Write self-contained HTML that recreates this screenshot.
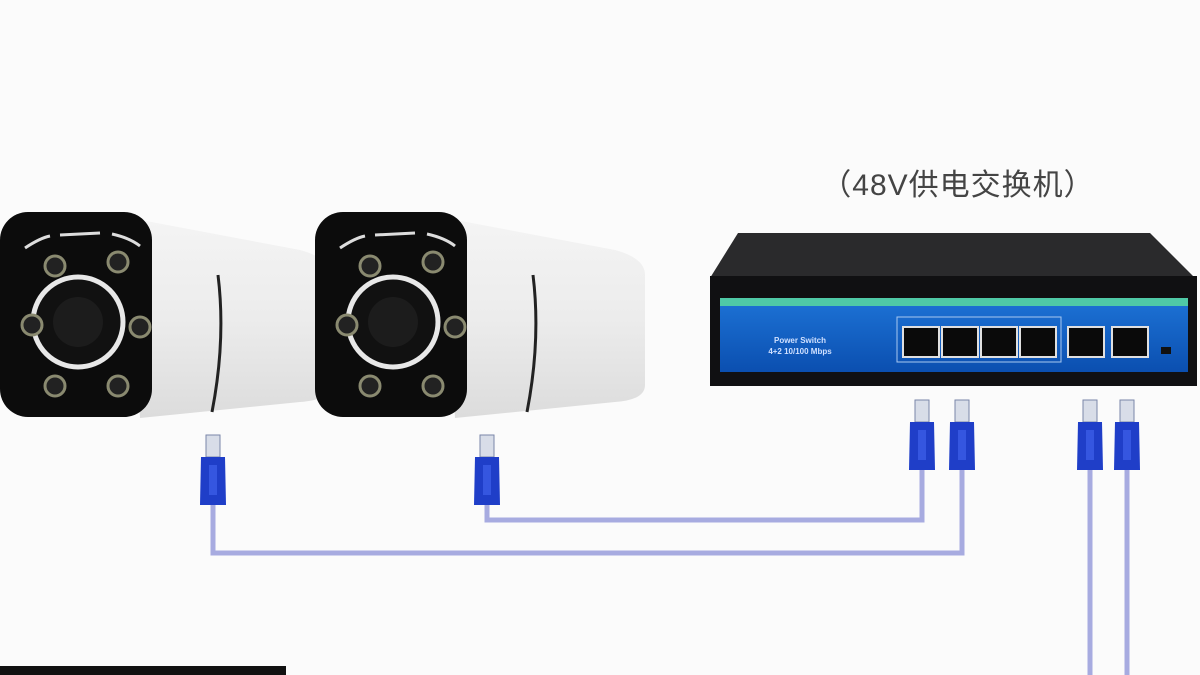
<!DOCTYPE html>
<html><head><meta charset="utf-8"><style>
html,body{margin:0;padding:0;background:#fbfbfb;width:1200px;height:675px;overflow:hidden}
svg{display:block}
</style></head><body>
<svg width="1200" height="675" viewBox="0 0 1200 675" xmlns="http://www.w3.org/2000/svg">
<defs>
<linearGradient id="bodyg" x1="0" y1="0" x2="0" y2="1">
<stop offset="0" stop-color="#f4f4f4"/><stop offset="0.5" stop-color="#ececec"/><stop offset="1" stop-color="#dcdcdc"/>
</linearGradient>
<linearGradient id="blue" x1="0" y1="0" x2="0" y2="1">
<stop offset="0" stop-color="#1d73d6"/><stop offset="1" stop-color="#0b4fb0"/>
</linearGradient>
<g id="cam">
<path d="M130 218 L300 250 Q330 258 330 275 L330 385 Q330 400 300 402 L140 418 Z" fill="url(#bodyg)"/>
<path d="M218 275 Q226 340 212 412" stroke="#222" stroke-width="3" fill="none"/>
<rect x="0" y="212" width="152" height="205" rx="28" fill="#0c0c0c"/>
<circle cx="78" cy="322" r="45" fill="#111" stroke="#e8e8e8" stroke-width="5"/>
<circle cx="78" cy="322" r="25" fill="#1c1c1c"/>
<g fill="#222" stroke="#8a8a70" stroke-width="3">
<circle cx="55" cy="266" r="10"/><circle cx="118" cy="262" r="10"/>
<circle cx="32" cy="325" r="10"/><circle cx="140" cy="327" r="10"/>
<circle cx="55" cy="386" r="10"/><circle cx="118" cy="386" r="10"/>
</g>
<path d="M25 248 Q40 238 50 236 M60 235 L100 233 M112 234 Q130 238 140 246" stroke="#ddd" stroke-width="3" fill="none"/>
</g>
<g id="plug">
<rect x="-7" y="0" width="14" height="22" fill="#d8dde8" stroke="#7a86a8" stroke-width="1"/>
<path d="M-12 22 L12 22 L13 70 L-13 70 Z" fill="#1f3ec8"/>
<rect x="-4" y="30" width="8" height="30" fill="#3556e0"/>
</g>
</defs>

<g stroke="#a7abe0" stroke-width="5" fill="none">
<path d="M213 500 L213 553 L962 553 L962 470"/>
<path d="M487 500 L487 520 L922 520 L922 470"/>
<path d="M1090 470 L1090 675"/>
<path d="M1127 470 L1127 675"/>
</g>

<use href="#cam" x="0" y="0"/>
<use href="#cam" x="315" y="0"/>

<use href="#plug" x="213" y="435"/>
<use href="#plug" x="487" y="435"/>
<use href="#plug" x="922" y="400"/>
<use href="#plug" x="962" y="400"/>
<use href="#plug" x="1090" y="400"/>
<use href="#plug" x="1127" y="400"/>

<path d="M738 233 L1150 233 L1195 278 L710 278 Z" fill="#2a2a2c"/>
<rect x="710" y="276" width="487" height="110" fill="#101012"/>
<rect x="720" y="298" width="468" height="74" fill="url(#blue)"/>
<rect x="720" y="298" width="468" height="8" fill="#4fc9a6"/>
<text x="800" y="343" font-family="Liberation Sans, sans-serif" font-size="8" font-weight="bold" fill="#cfe0ff" text-anchor="middle">Power Switch</text>
<text x="800" y="354" font-family="Liberation Sans, sans-serif" font-size="8" font-weight="bold" fill="#cfe0ff" text-anchor="middle">4+2 10/100 Mbps</text>
<rect x="897" y="317" width="164" height="45" fill="none" stroke="#a8c8f0" stroke-width="1"/>
<g fill="#0a0a0a" stroke="#e0e0e0" stroke-width="2">
<rect x="903" y="327" width="36" height="30"/><rect x="942" y="327" width="36" height="30"/>
<rect x="981" y="327" width="36" height="30"/><rect x="1020" y="327" width="36" height="30"/>
<rect x="1068" y="327" width="36" height="30"/><rect x="1112" y="327" width="36" height="30"/>
</g>
<rect x="1161" y="347" width="10" height="7" fill="#111"/>

<text x="958" y="195" font-family="Liberation Sans, 'Noto Sans CJK SC', sans-serif" font-size="30" letter-spacing="1" fill="#444" text-anchor="middle">（48V供电交换机）</text>

<rect x="0" y="666" width="286" height="9" fill="#111"/>
</svg>
</body></html>
